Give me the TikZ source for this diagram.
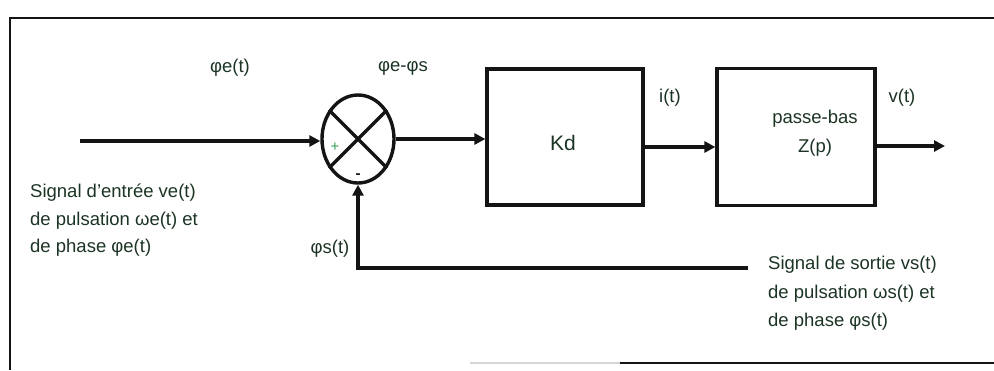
\documentclass[tikz,border=0pt]{standalone}
\usepackage{fontspec}
\setmainfont{Liberation Sans}
\usetikzlibrary{arrows.meta,shapes.geometric}
\definecolor{txt}{RGB}{28,52,36}
\definecolor{plusc}{RGB}{60,160,90}
\definecolor{ln}{RGB}{20,20,20}
\begin{document}
\begin{tikzpicture}[x=1pt,y=-1pt,
  wire/.style={draw=ln,line width=3.4pt},
  arr/.style={wire,-{Triangle[length=11pt,width=11pt]}},
  blk/.style={draw=ln,line width=3.2pt,rectangle,inner sep=0pt},
  lbl/.style={text=txt,font=\fontsize{18.5}{27.5}\selectfont,inner sep=0pt},
  frame/.style={draw=ln,line width=2.8pt}]
\useasboundingbox (0,0) rectangle (994,370);
% frame
\draw[frame] (10,370) -- (10,18) -- (994,18);
\draw[frame,draw=ln!18] (470,363) -- (620,363);
\draw[frame] (620,363) -- (994,363);
% mixer
\node[ellipse,draw=ln,line width=3.4pt,minimum width=72pt,minimum height=88pt,inner sep=0pt] (mix) at (358,139) {};
\draw[wire] (mix.45) -- (mix.225);
\draw[wire] (mix.135) -- (mix.315);
\node[text=plusc,font=\fontsize{15}{15}\selectfont,inner sep=0pt] (plus) at (335,147) {+};
\node[text=ln,font=\bfseries\fontsize{15}{15}\selectfont,inner sep=0pt] (minus) at (358,176) {-};
% blocks
\node[blk,minimum width=156pt,minimum height=136pt] (kd) at (565,137) {};
\node[lbl,font=\fontsize{21}{24}\selectfont] (kdt) at (563,143) {Kd};
\node[blk,minimum width=158pt,minimum height=137pt] (z) at (796,137) {};
\node[lbl] (zt1) at (815,119) {passe-bas};
\node[lbl] (zt2) at (815,148) {Z(p)};
% connectors
\coordinate (in) at (80,141);
\coordinate (out) at (945,146);
\coordinate (fb) at (748,268);
\draw[arr] (in) -- (in -| mix.west);
\draw[arr] (mix.east) -- (mix.east -| kd.west);
\draw[arr] (kd.east |- 0,147) -- (z.west |- 0,147);
\draw[arr] (z.east |- out) -- (out);
\draw[arr] (fb) -- (fb -| mix.south) -- (mix.south);
% labels
\node[lbl] (l1) at (230,68) {φe(t)};
\node[lbl] (l2) at (403,68) {φe-φs};
\node[lbl] (l3) at (670,98) {i(t)};
\node[lbl] (l4) at (902,98) {v(t)};
\node[lbl] (l5) at (330,249) {φs(t)};
\node[lbl,align=left,anchor=north west] (inp) at (30,184) {Signal d'entrée ve(t)\\de pulsation ωe(t) et\\de phase φe(t)};
\node[lbl,align=left,anchor=north west,font=\fontsize{18.5}{28.5}\selectfont] (outp) at (768,256) {Signal de sortie vs(t)\\de pulsation ωs(t) et\\de phase φs(t)};
\end{tikzpicture}
\end{document}
